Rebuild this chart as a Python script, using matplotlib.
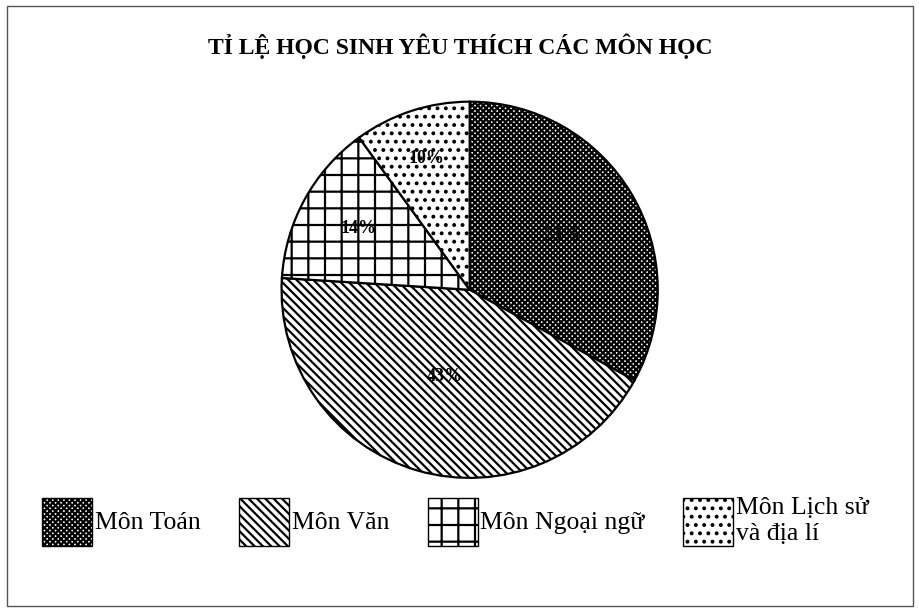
import matplotlib
matplotlib.use('Agg')
import numpy as np
import matplotlib.pyplot as plt
import matplotlib.patches as mpatches

# Du lieu del grafico
mon_hoc = ['Môn Toán', 'Môn Văn', 'Môn Ngoại ngữ', 'Môn Lịch sử\nvà địa lí']
ti_le = [33, 43, 14, 10]
hatches = ['xxxxxx', '\\\\\\\\', '+', '..']
dist_nhan = [0.57, 0.48, 0.675, 0.735]

plt.rcParams['font.family'] = ['Liberation Serif', 'DejaVu Serif']
plt.rcParams['hatch.linewidth'] = 1.6

fig = plt.figure(figsize=(9.2, 6.12), dpi=100)
ax = fig.add_axes([0.304, 0.216, 0.413, 0.621])

wedges, texts, autotexts = ax.pie(ti_le, startangle=90, counterclock=False,
                                  colors=['white'] * 4, autopct='%d%%',
                                  wedgeprops={'edgecolor': 'black', 'linewidth': 1.6},
                                  textprops={'fontsize': 13, 'fontweight': 'bold'})
for w, h, t, d in zip(wedges, hatches, autotexts, dist_nhan):
    w.set_hatch(h)
    ang = np.deg2rad((w.theta1 + w.theta2) / 2)
    t.set_position((d * np.cos(ang), d * np.sin(ang)))
ax.set_xlim(-1.01, 1.01)
ax.set_ylim(-1.01, 1.01)
ax.set_aspect('equal')

fig.text(0.5, 0.925, 'TỈ LỆ HỌC SINH YÊU THÍCH CÁC MÔN HỌC', ha='center', va='center',
         fontsize=17, fontweight='bold')

handles = [mpatches.Patch(facecolor='white', edgecolor='black', hatch=h, label=m)
           for h, m in zip(hatches, mon_hoc)]
fig.legend(handles=handles, loc='center', bbox_to_anchor=(0.495, 0.148), ncol=4,
           frameon=False, fontsize=18.5, handlelength=1.95, handleheight=2.5,
           handletextpad=0.1, columnspacing=1.5)

# Marco
fig.patches.append(mpatches.Rectangle((0.008, 0.01), 0.984, 0.98, transform=fig.transFigure,
                                      fill=False, edgecolor='#555555', linewidth=1))

plt.savefig('out.png')
plt.close()
